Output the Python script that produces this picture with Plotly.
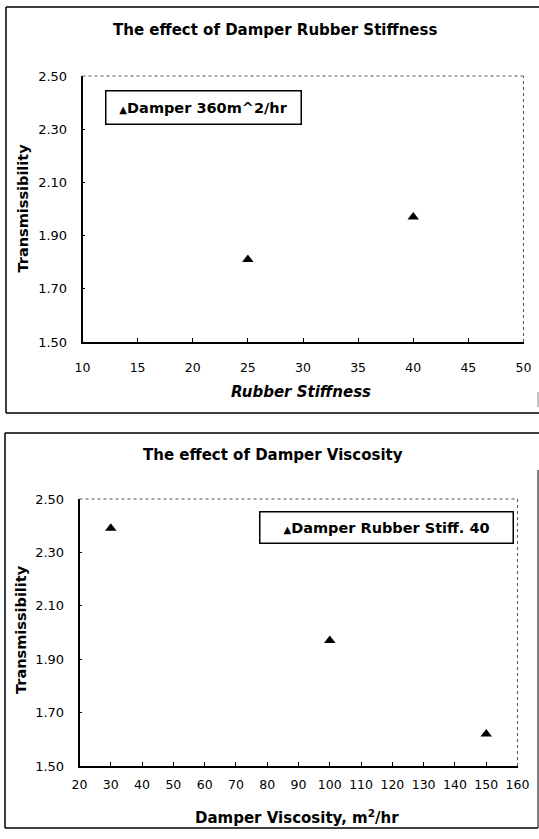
import plotly.graph_objects as go

# ---- data ----
rubber_stiffness = [25, 40]
trans_stiffness = [1.81, 1.97]
damper_viscosity = [30, 100, 150]
trans_viscosity = [2.39, 1.97, 1.62]

y_ticks = [1.50, 1.70, 1.90, 2.10, 2.30, 2.50]
x1_ticks = [10, 15, 20, 25, 30, 35, 40, 45, 50]
x2_ticks = [20, 30, 40, 50, 60, 70, 80, 90, 100, 110, 120, 130, 140, 150, 160]

legend1_text = "Damper 360m^2/hr"
legend2_text = "Damper Rubber Stiff. 40"

W, H = 539, 839
FONT = "DejaVu Sans"


def px_x(v):
    return v / W


def px_y(v):
    return 1 - v / H


fig = go.Figure()

fig.add_trace(go.Scatter(
    x=rubber_stiffness, y=trans_stiffness, mode="markers",
    name=legend1_text, showlegend=False,
    marker=dict(symbol="triangle-up", size=10, color="black"),
    xaxis="x", yaxis="y",
))
fig.add_trace(go.Scatter(
    x=damper_viscosity, y=trans_viscosity, mode="markers",
    name=legend2_text, showlegend=False,
    marker=dict(symbol="triangle-up", size=10, color="black"),
    xaxis="x2", yaxis="y2",
))

common_x = dict(showline=True, linecolor="black", linewidth=1.5, mirror=False,
                ticks="inside", ticklen=4, tickcolor="black", showgrid=False,
                zeroline=False, automargin=False,
                tickfont=dict(family=FONT, size=12.5, color="black"))
common_y = dict(showline=True, linecolor="black", linewidth=1.5, mirror=False,
                ticks="inside", ticklen=3, tickcolor="black", showgrid=False,
                zeroline=False, automargin=False,
                tickfont=dict(family=FONT, size=13, color="black"),
                range=[1.5, 2.5], tickvals=y_ticks, tickformat=".2f",
                ticklabelstandoff=11)

fig.update_layout(
    width=W, height=H, autosize=False,
    margin=dict(l=0, r=0, t=0, b=0),
    paper_bgcolor="white", plot_bgcolor="white",
    showlegend=False,
    xaxis=dict(common_x, domain=[px_x(82.5), px_x(523.5)], range=[10, 50],
               tickvals=x1_ticks, anchor="y", ticklabelstandoff=13),
    yaxis=dict(common_y, domain=[px_y(342), px_y(76)], anchor="x"),
    xaxis2=dict(common_x, domain=[px_x(79.5), px_x(517.5)], range=[20, 160],
                tickvals=x2_ticks, anchor="y2", ticklabelstandoff=6),
    yaxis2=dict(common_y, domain=[px_y(766), px_y(499)], anchor="x2"),
)

shapes = []
# dotted top/right plot-area borders
for xr, yr in [("x", "y"), ("x2", "y2")]:
    shapes.append(dict(type="line", xref=f"{xr} domain", yref=f"{yr} domain",
                       x0=0, x1=1, y0=1, y1=1,
                       line=dict(color="#555555", width=1, dash="dot")))
    shapes.append(dict(type="line", xref=f"{xr} domain", yref=f"{yr} domain",
                       x0=1, x1=1, y0=0, y1=1,
                       line=dict(color="#555555", width=1, dash="dot")))

frame = dict(color="black", width=1.5)
# top panel: top, left, bottom lines (right edge cut off in the scan)
shapes += [
    dict(type="line", xref="paper", yref="paper", x0=px_x(6), x1=1.0,
         y0=px_y(7), y1=px_y(7), line=frame),
    dict(type="line", xref="paper", yref="paper", x0=px_x(6), x1=px_x(6),
         y0=px_y(7), y1=px_y(413), line=frame),
    dict(type="line", xref="paper", yref="paper", x0=px_x(6), x1=1.0,
         y0=px_y(413), y1=px_y(413), line=frame),
    dict(type="line", xref="paper", yref="paper", x0=px_x(538), x1=px_x(538),
         y0=px_y(392), y1=px_y(407), line=dict(color="#888888", width=1)),
]
# bottom panel
shapes += [
    dict(type="line", xref="paper", yref="paper", x0=px_x(5), x1=1.0,
         y0=px_y(433), y1=px_y(433), line=frame),
    dict(type="line", xref="paper", yref="paper", x0=px_x(5), x1=px_x(5),
         y0=px_y(433), y1=px_y(828), line=frame),
    dict(type="line", xref="paper", yref="paper", x0=px_x(5), x1=px_x(538),
         y0=px_y(828), y1=px_y(828), line=frame),
    dict(type="line", xref="paper", yref="paper", x0=px_x(538), x1=px_x(538),
         y0=px_y(470), y1=px_y(828), line=dict(color="black", width=1)),
]
fig.update_layout(shapes=shapes)

title_font = dict(family=FONT, size=15, color="black", weight="bold")
ytitle_font = dict(family=FONT, size=14.5, color="black", weight="bold")
legend_font = dict(family=FONT, size=14.5, color="black", weight="bold")
tri = '<span style="font-size:10px">▲</span>'


def ann(text, x, y, font, **kw):
    d = dict(text=text, x=px_x(x), y=px_y(y), xref="paper", yref="paper",
             xanchor="center", yanchor="middle", showarrow=False, font=font)
    d.update(kw)
    return d


annotations = [
    ann("The effect of Damper Rubber Stiffness", 275, 30, title_font),
    ann("Transmissibility", 22.5, 208, ytitle_font, textangle=-90),
    ann("<i>Rubber Stiffness</i>", 301, 392, title_font),
    ann(tri + legend1_text, 203, 107.5, legend_font,
        bordercolor="black", borderwidth=1.5, borderpad=3, bgcolor="white",
        width=188, height=26),
    ann("The effect of Damper Viscosity", 273, 455, title_font),
    ann("Transmissibility", 21, 630, ytitle_font, textangle=-90),
    ann("Damper Viscosity, m<sup>2</sup>/hr", 297, 817, title_font),
    ann(tri + legend2_text, 386, 527.5, legend_font,
        bordercolor="black", borderwidth=1.5, borderpad=3, bgcolor="white",
        width=246, height=24),
]
fig.update_layout(annotations=annotations)

fig.write_html("out.html", config={"displayModeBar": False},
               post_script="document.body.style.margin='0';document.body.style.padding='0';")
